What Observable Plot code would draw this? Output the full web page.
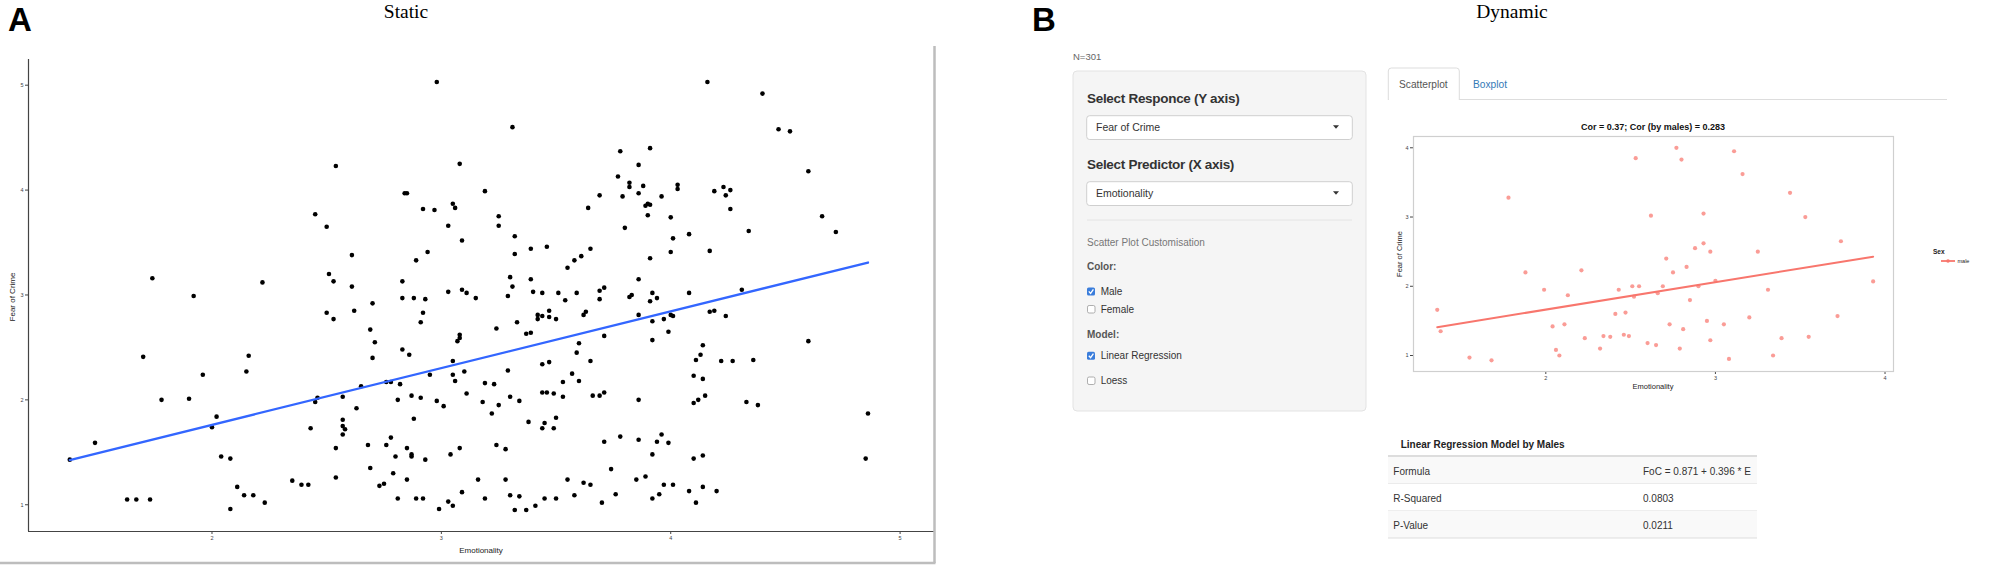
<!DOCTYPE html>
<html><head><meta charset="utf-8">
<script src="https://cdn.jsdelivr.net/npm/d3@7"></script>
<script src="https://cdn.jsdelivr.net/npm/@observablehq/plot@0.6"></script>
<style>
html,body{margin:0;padding:0;background:#fff;}
#root{position:relative;width:2008px;height:570px;overflow:hidden;background:#fff;}
#root svg{position:absolute;}
</style></head><body><div id="root"></div>
<script>
// ---------- texts ----------
const panelLetters = ["A", "B"];
const panelTitles = ["Static", "Dynamic"];
const axisLabels = {x: "Emotionality", y: "Fear of Crime"};
const sampleLabel = "N=301";
const sidebarHeadings = ["Select Responce (Y axis)", "Select Predictor (X axis)"];
const selectValues = ["Fear of Crime", "Emotionality"];
const customTitle = "Scatter Plot Customisation";
const colorGroup = {label: "Color:", options: ["Male", "Female"], checked: [true, false]};
const modelGroup = {label: "Model:", options: ["Linear Regression", "Loess"], checked: [true, false]};
const tabs = ["Scatterplot", "Boxplot"];
const plotBTitle = "Cor = 0.37; Cor (by males) = 0.283";
const legendTitle = "Sex";
const legendItems = ["male"];
const tableTitle = "Linear Regression Model by Males";
const tableRows = [["Formula", "FoC = 0.871 + 0.396 * E"], ["R-Squared", "0.0803"], ["P-Value", "0.0211"]];

// ---------- scales / ticks ----------
const xTicksA = [2, 3, 4, 5];
const yTicksA = [1, 2, 3, 4, 5];
const xDomainA = [1.2, 5.15];
const yDomainA = [0.745, 5.245];
const xTicksB = [2, 3, 4];
const yTicksB = [1, 2, 3, 4];
const xDomainB = [1.22, 4.05];
const yDomainB = [0.769, 4.163];

// ---------- fitted lines ----------
const fitA = {intercept: 0.680, slope: 0.541};
const fitB = {intercept: 0.871, slope: 0.396};

// ---------- data: panel A (Emotionality, Fear of Crime), all respondents ----------
const staticPoints = [
[1.38,1.43],[1.49,1.59],[1.70,2.41],[1.74,3.16],[1.78,2.00],[1.90,2.01],[1.92,2.99],[1.96,2.24],[2.00,1.74],[2.02,1.84],
[2.04,1.46],[2.08,1.44],[2.15,2.27],[2.16,2.42],[2.22,3.12],[2.43,1.73],[2.45,1.98],[2.46,2.02],[2.45,3.77],[2.50,3.65],
[2.51,3.20],[2.53,3.13],[2.50,2.83],[2.53,2.77],[2.54,4.23],[2.54,1.54],
[2.80,1.46],[2.87,1.48],[2.87,1.46],[2.93,1.43],[3.04,1.48],[3.92,1.48],[4.10,1.44],[4.14,1.47],[4.38,1.95],
[2.98,5.03],[4.16,5.03],[3.31,4.60],[3.78,4.37],[3.91,4.40],[3.08,4.25],[3.86,4.24],[3.77,4.13],[3.19,3.99],[2.84,3.97],
[2.85,3.97],[3.82,4.07],[3.82,4.03],[3.88,4.04],[3.79,3.94],[3.86,3.97],[3.69,3.95],[3.96,3.94],[4.03,4.05],[4.03,4.01],
[4.19,3.99],[4.23,4.03],[4.26,4.00],[4.24,3.95],[4.26,3.82],[2.92,3.82],[2.97,3.81],[3.05,3.87],[3.06,3.83],[3.89,3.85],
[3.91,3.86],[3.90,3.87],[3.64,3.83],[3.90,3.76],[4.00,3.74],[3.25,3.75],[3.25,3.66],[3.03,3.66],[3.80,3.64],[3.09,3.52],
[3.32,3.56],[4.01,3.54],[4.08,3.58],[4.34,3.61],[2.89,3.33],[2.94,3.41],[3.32,3.39],[3.39,3.44],[3.46,3.46],[3.65,3.44],
[4.00,3.41],[4.17,3.42],[3.91,3.35],[3.55,3.26],[3.58,3.33],[3.61,3.37],[2.61,3.38],[2.61,3.08],[2.62,2.85],[2.70,2.92],
[2.83,3.13],[2.83,2.97],[2.88,2.97],[2.93,2.96],[2.92,2.83],[2.91,2.74],[3.03,3.03],[3.09,3.05],[3.11,3.02],[3.15,2.97],
[3.30,3.17],[3.31,3.08],[3.29,2.99],[3.39,3.15],[3.40,3.03],[3.44,3.02],[3.51,3.02],[3.54,2.95],[3.59,3.02],[3.69,3.04],
[3.71,3.07],[3.69,2.96],[3.86,3.15],[3.82,2.98],[3.83,3.00],[3.92,3.02],[3.94,2.97],[3.91,2.94],[4.08,3.02],[4.31,3.05],
[3.42,2.81],[3.42,2.77],[3.44,2.80],[3.47,2.85],[3.47,2.79],[3.50,2.77],[3.62,2.81],[3.63,2.84],[3.86,2.81],[3.92,2.75],
[3.97,2.77],[4.00,2.81],[4.01,2.80],[4.17,2.84],[4.19,2.85],[4.24,2.80],[3.99,2.65],[3.92,2.57],[3.71,2.61],[3.33,2.74],
[3.24,2.68],[3.37,2.63],[3.39,2.64],[3.08,2.62],[3.08,2.59],[3.07,2.56],[2.69,2.67],[2.71,2.55],[2.70,2.40],[2.83,2.48],
[2.86,2.43],[3.05,2.37],[3.05,2.24],[3.06,2.18],[3.10,2.27],[2.95,2.24],[2.76,2.17],[2.78,2.17],[2.82,2.15],[2.65,2.13],
[2.57,2.03],[2.63,1.92],[2.81,2.00],[2.87,2.04],[2.91,2.02],[2.98,1.99],[3.01,1.94],[3.11,2.06],[3.18,1.98],[3.19,2.16],
[3.23,2.15],[3.25,1.95],[3.22,1.87],[3.29,2.28],[3.30,2.03],[3.34,1.99],[3.44,2.34],[3.47,2.36],[3.44,2.07],[3.46,2.07],
[3.49,2.06],[3.53,2.17],[3.53,2.03],[3.57,2.25],[3.60,2.18],[3.59,2.45],[3.60,2.54],[3.65,2.37],[3.66,2.04],[3.69,2.04],
[3.71,2.07],[3.86,2.00],[4.14,2.52],[4.13,2.43],[4.11,2.38],[4.22,2.37],[4.27,2.37],[4.36,2.38],[4.10,2.23],[4.14,2.20],
[4.15,2.04],[4.12,2.00],[4.10,1.97],[4.33,1.98],[2.57,1.81],[2.57,1.75],[2.58,1.72],[2.57,1.67],[2.88,1.82],[2.78,1.64],
[2.76,1.57],[2.68,1.57],[2.85,1.54],[3.08,1.54],[3.24,1.57],[3.28,1.53],[3.38,1.79],[3.45,1.78],[3.44,1.73],[3.50,1.83],
[3.49,1.73],[3.71,1.60],[3.78,1.65],[3.86,1.62],[3.94,1.60],[3.96,1.67],[3.99,1.59],
[1.63,1.05],[1.67,1.05],[1.73,1.05],[2.08,0.96],[2.11,1.17],[2.14,1.09],[2.18,1.09],[2.23,1.02],[2.35,1.23],[2.39,1.19],
[2.42,1.19],[2.54,1.26],[2.69,1.35],[2.73,1.18],[2.75,1.20],[2.79,1.30],[2.81,1.06],[2.85,1.24],[2.89,1.06],[2.92,1.06],
[2.99,0.96],[3.03,1.03],[3.05,0.99],[3.09,1.12],[3.16,1.24],[3.19,1.06],[3.28,1.24],[3.30,1.09],[3.32,0.95],[3.34,1.08],
[3.37,0.95],[3.41,0.99],[3.45,1.06],[3.50,1.06],[3.55,1.24],[3.58,1.09],[3.62,1.21],[3.65,1.19],[3.70,1.02],[3.74,1.34],
[3.76,1.10],[3.85,1.24],[3.89,1.27],[3.92,1.06],[3.95,1.10],[3.97,1.19],[4.01,1.19],[4.08,1.13],[4.11,1.02],[4.14,1.17],
[4.20,1.13],
[4.40,4.92],[4.47,4.58],[4.52,4.56],[4.60,4.18],[4.66,3.75],[4.72,3.60],[4.60,2.56],[4.86,1.87],[4.85,1.44]
];

// ---------- data: panel B (males only) ----------
const malePoints = [
[1.36,1.66],[1.38,1.35],[1.55,0.97],[1.68,0.93],[1.78,3.28],[1.88,2.20],[1.99,1.95],[2.13,1.87],[2.21,2.23],
[2.04,1.42],[2.06,1.08],[2.08,1.00],[2.11,1.45],[2.23,1.25],[2.32,1.10],[2.34,1.28],[2.38,1.27],[2.41,1.60],[2.43,1.95],
[2.46,1.30],[2.47,1.62],[2.49,1.28],[2.51,2.00],[2.52,1.85],[2.53,3.85],[2.55,2.00],[2.60,1.18],[2.62,3.02],[2.65,1.15],
[2.66,1.90],[2.69,2.00],[2.71,2.40],[2.73,1.45],[2.75,2.20],[2.77,4.00],[2.79,1.10],[2.80,3.83],[2.81,1.38],[2.83,2.28],
[2.85,1.80],[2.88,2.55],[2.90,2.00],[2.93,2.62],[2.93,3.05],[2.95,1.50],[2.97,2.50],[2.97,1.22],[3.00,2.08],[3.05,1.45],
[3.08,0.95],[3.11,3.95],[3.16,3.62],[3.20,1.55],[3.25,2.50],[3.31,1.95],[3.34,1.00],[3.39,1.25],[3.44,3.35],[3.53,3.00],
[3.55,1.27],[3.72,1.57],[3.74,2.65],[3.93,2.07]
];

const root = document.getElementById("root");
const FONT = "Liberation Sans, Arial, Helvetica, sans-serif";
const intFmt = d3.format("d");

// ---------- Panel A plot ----------
const lineA = d3.extent(staticPoints, d => d[0]).map(x => ({x, y: fitA.intercept + fitA.slope * x}));
const plotA = Plot.plot({
  width: 940, height: 570,
  marginLeft: 28, marginRight: 6, marginTop: 59, marginBottom: 39,
  x: {domain: xDomainA, ticks: xTicksA, tickFormat: intFmt, tickSize: 3, tickPadding: 2, label: null},
  y: {domain: yDomainA, ticks: yTicksA, tickFormat: intFmt, tickSize: 3, tickPadding: 2, label: null},
  style: {background: "transparent", fontFamily: FONT, fontSize: "5.5px", color: "#444"},
  marks: [
    Plot.ruleX([xDomainA[0]], {stroke: "#444", strokeWidth: 1.2}),
    Plot.ruleY([yDomainA[0]], {stroke: "#444", strokeWidth: 1.2}),
    Plot.dot(staticPoints, {x: d => d[0], y: d => d[1], r: 2.3, fill: "#000", stroke: "none"}),
    Plot.line(lineA, {x: "x", y: "y", stroke: "#3366FF", strokeWidth: 2.3})
  ]
});
plotA.style.left = "0px"; plotA.style.top = "0px";
root.appendChild(plotA);

// ---------- Panel B plot ----------
const lineB = d3.extent(malePoints, d => d[0]).map(x => ({x, y: fitB.intercept + fitB.slope * x}));
const plotB = Plot.plot({
  width: 620, height: 300,
  marginLeft: 33, marginRight: 107, marginTop: 36, marginBottom: 29,
  x: {domain: xDomainB, ticks: xTicksB, tickFormat: intFmt, tickSize: 3, tickPadding: 2, label: null},
  y: {domain: yDomainB, ticks: yTicksB, tickFormat: intFmt, tickSize: 3, tickPadding: 2, label: null},
  style: {background: "transparent", fontFamily: FONT, fontSize: "5.5px", color: "#444"},
  marks: [
    Plot.frame({stroke: "#cfcfcf", strokeWidth: 1.2}),
    Plot.dot(malePoints, {x: d => d[0], y: d => d[1], r: 2.1, fill: "#F8766D", fillOpacity: 0.72, stroke: "none"}),
    Plot.line(lineB, {x: "x", y: "y", stroke: "#F8766D", strokeWidth: 2})
  ]
});
plotB.style.left = "1380px"; plotB.style.top = "100px";
root.appendChild(plotB);

// ---------- overlay: labels and dashboard chrome ----------
const NS = "http://www.w3.org/2000/svg";
const ov = document.createElementNS(NS, "svg");
ov.setAttribute("width", 2008); ov.setAttribute("height", 570);
ov.style.left = "0px"; ov.style.top = "0px";
root.appendChild(ov);
function el(tag, attrs) { const e = document.createElementNS(NS, tag); for (const k in attrs) e.setAttribute(k, attrs[k]); ov.appendChild(e); return e; }
function txt(x, y, s, a = {}) { const e = el("text", Object.assign({x, y, "font-family": FONT, fill: "#222"}, a)); e.textContent = s; return e; }

// panel A frame (screenshot edge)
el("line", {x1: 934.5, y1: 46, x2: 934.5, y2: 563, stroke: "#bdbdbd", "stroke-width": 2.5});
el("line", {x1: 0, y1: 563, x2: 935.5, y2: 563, stroke: "#bdbdbd", "stroke-width": 2.5});

// panel letters and titles
txt(8, 31, panelLetters[0], {"font-size": 33, "font-weight": "bold", fill: "#000"});
txt(1032, 30.5, panelLetters[1], {"font-size": 33, "font-weight": "bold", fill: "#000"});
const serif = "Liberation Serif, Times New Roman, serif";
txt(406, 18, panelTitles[0], {"font-size": 19.5, "font-family": serif, "text-anchor": "middle", fill: "#000"});
txt(1512, 18, panelTitles[1], {"font-size": 19.5, "font-family": serif, "text-anchor": "middle", fill: "#000"});

// panel A axis labels
txt(481, 553, axisLabels.x, {"font-size": 8, "text-anchor": "middle", fill: "#222"});
txt(0, 0, axisLabels.y, {"font-size": 8, "text-anchor": "middle", transform: "translate(15,297) rotate(-90)", fill: "#222"});

// dashboard
txt(1073, 59.5, sampleLabel, {"font-size": 9.5, fill: "#666"});
el("rect", {x: 1073, y: 71, width: 293, height: 340, rx: 4, fill: "#f5f5f5", stroke: "#e3e3e3"});
txt(1087, 102.7, sidebarHeadings[0], {"font-size": 13.5, "font-weight": "bold", "letter-spacing": -0.3, fill: "#333"});
txt(1087, 169, sidebarHeadings[1], {"font-size": 13.5, "font-weight": "bold", "letter-spacing": -0.3, fill: "#333"});
[[115.7, 130.7], [181.7, 197]].forEach(([top, base], i) => {
  el("rect", {x: 1086.7, y: top, width: 265.6, height: 23.8, rx: 3, fill: "#fff", stroke: "#cfcfcf"});
  txt(1096, base, selectValues[i], {"font-size": 10.5, fill: "#333"});
  el("path", {d: `M1333,${top + 9.5} L1339,${top + 9.5} L1336,${top + 13} Z`, fill: "#333"});
});
el("line", {x1: 1087, y1: 220, x2: 1352, y2: 220, stroke: "#e4e4e4"});
txt(1087, 245.7, customTitle, {"font-size": 10, fill: "#777"});
function group(g, labelBase, optBases) {
  txt(1087, labelBase, g.label, {"font-size": 10, "font-weight": "bold", fill: "#555"});
  g.options.forEach((o, i) => {
    const b = optBases[i];
    if (g.checked[i]) {
      el("rect", {x: 1087, y: b - 7.5, width: 8, height: 8, rx: 1.6, fill: "#3a7ddb"});
      el("path", {d: `M1088.8,${b - 3.6} L1090.6,${b - 1.6} L1093.4,${b - 5.6}`, fill: "none", stroke: "#fff", "stroke-width": 1.3});
    } else {
      el("rect", {x: 1087.5, y: b - 7, width: 7.5, height: 7.5, rx: 1.6, fill: "#fff", stroke: "#9a9a9a", "stroke-width": 0.8});
    }
    txt(1100.7, b, o, {"font-size": 10, fill: "#333"});
  });
}
group(colorGroup, 270, [295, 312.5]);
group(modelGroup, 338.3, [359.3, 384]);

// tabs
el("line", {x1: 1388, y1: 99.5, x2: 1947, y2: 99.5, stroke: "#ddd"});
el("path", {d: "M1388.3,100 L1388.3,71 Q1388.3,68 1391.3,68 L1456.3,68 Q1459.3,68 1459.3,71 L1459.3,100", fill: "#fff", stroke: "#ddd"});
txt(1399, 88, tabs[0], {"font-size": 10.2, fill: "#555"});
txt(1473, 88, tabs[1], {"font-size": 10.2, fill: "#337ab7"});

// plot B labels
txt(1653, 129.5, plotBTitle, {"font-size": 9, "font-weight": "bold", "text-anchor": "middle", fill: "#111"});
txt(1653, 389, axisLabels.x, {"font-size": 7.5, "text-anchor": "middle", fill: "#222"});
txt(0, 0, axisLabels.y, {"font-size": 7.5, "text-anchor": "middle", transform: "translate(1401.5,254) rotate(-90)", fill: "#222"});

// legend
txt(1933, 254, legendTitle, {"font-size": 6.5, "font-weight": "bold", fill: "#222"});
el("line", {x1: 1941, y1: 261, x2: 1955, y2: 261, stroke: "#F8766D", "stroke-width": 1.8});
el("circle", {cx: 1948, cy: 261, r: 1.8, fill: "#F8766D"});
txt(1957.5, 263, legendItems[0], {"font-size": 5.5, fill: "#222"});

// table
txt(1400.7, 447.7, tableTitle, {"font-size": 10, "font-weight": "bold", fill: "#222"});
tableRows.forEach((r, i) => {
  const top = 457 + i * 27;
  el("rect", {x: 1388, y: top, width: 369, height: 27, fill: i % 2 === 0 ? "#f9f9f9" : "#fff"});
  el("line", {x1: 1388, y1: top + 27, x2: 1757, y2: top + 27, stroke: "#ddd"});
  txt(1393.3, top + 17.5, r[0], {"font-size": 10, fill: "#333"});
  txt(1643, top + 17.5, r[1], {"font-size": 10, fill: "#333"});
});
el("line", {x1: 1388, y1: 456, x2: 1757, y2: 456, stroke: "#ddd", "stroke-width": 2});
</script></body></html>
